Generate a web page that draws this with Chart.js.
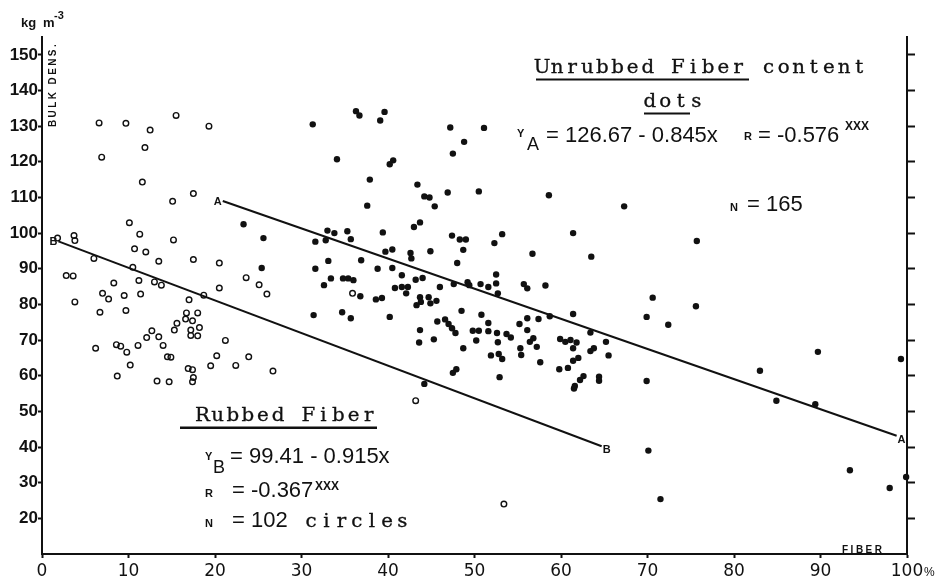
<!DOCTYPE html>
<html>
<head>
<meta charset="utf-8">
<title>Bulk density vs fiber content</title>
<script src="https://cdn.jsdelivr.net/npm/chart.js@4.4.1/dist/chart.umd.min.js"></script>
<style>
  html, body { margin: 0; padding: 0; background: #fff; }
  canvas { display: block; }
</style>
</head>
<body>
<canvas id="chart" width="937" height="581"></canvas>
<script>
// rubbed fiber samples (open circles): fiber % / bulk density kg m-3
const rubbedX = [
  6.6, 9.7, 12.5, 15.5, 19.3, 6.9, 11.9, 11.6, 15.1, 17.5,
  1.8, 3.7, 3.8, 10.1, 11.3, 15.2, 6.0, 10.7, 12.0, 13.5,
  17.5, 20.5, 10.5, 2.8, 3.6, 11.2, 13.0, 13.8, 8.3, 23.6,
  25.1, 20.5, 26.0, 7.0, 7.7, 9.5, 11.4, 3.8, 18.7, 17.0,
  9.7, 6.7, 16.7, 18.0, 16.6, 17.4, 15.6, 15.3, 18.2, 17.2,
  12.7, 12.1, 13.5, 17.2, 18.0, 21.2, 6.2, 8.6, 9.1, 9.8,
  11.1, 14.0, 14.5, 14.9, 20.2, 23.9, 10.2, 19.5, 22.4, 16.9,
  17.4, 26.7, 8.7, 17.5, 13.3, 14.7, 17.4, 53.4, 35.9, 43.2
];
const rubbedY = [
  130.9, 130.8, 128.9, 133.0, 130.0, 121.3, 124.0, 114.3, 108.9, 111.1,
  98.6, 99.3, 97.9, 102.9, 99.7, 98.1, 92.9, 95.6, 94.7, 92.1,
  92.6, 91.6, 90.4, 88.1, 88.0, 86.7, 86.3, 85.4, 86.0, 87.5,
  85.5, 84.6, 82.9, 83.1, 81.5, 82.5, 82.9, 80.7, 82.6, 81.3,
  78.3, 77.8, 77.6, 77.6, 75.9, 75.4, 74.7, 72.8, 73.5, 72.8,
  72.6, 70.7, 70.9, 71.3, 71.2, 69.9, 67.7, 68.7, 68.3, 66.6,
  68.5, 68.5, 65.3, 65.2, 65.6, 65.3, 63.0, 62.8, 62.9, 62.0,
  61.7, 61.3, 59.9, 59.5, 58.5, 58.3, 58.3, 24.0, 83.1, 53.0
];

// unrubbed fiber samples (dots)
const unrubbedX = [
  31.3, 36.3, 36.7, 39.6, 39.1, 47.2, 51.1, 48.8, 47.5, 34.1,
  40.6, 40.2, 37.9, 43.4, 44.2, 44.8, 45.4, 46.9, 50.5, 58.6,
  37.6, 43.0, 43.7, 33.0, 33.8, 35.3, 35.7, 31.6, 32.8, 39.4,
  47.4, 48.3, 49.0, 53.2, 52.3, 61.4, 48.7, 56.7, 63.5, 39.7,
  40.5, 42.6, 42.7, 44.9, 36.9, 33.1, 48.0, 31.6, 38.8, 40.5,
  33.4, 34.8, 35.4, 36.0, 32.6, 41.6, 43.2, 44.0, 40.8, 41.6,
  42.3, 42.1, 46.0, 47.6, 49.2, 49.4, 50.7, 51.6, 52.5, 52.5,
  52.7, 55.7, 56.1, 58.2, 36.8, 38.6, 39.3, 43.7, 44.7, 43.8,
  43.3, 44.9, 45.6, 31.4, 34.7, 35.7, 40.2, 48.5, 50.8, 45.7,
  46.6, 47.0, 47.4, 47.8, 43.7, 43.6, 45.3, 48.7, 49.8, 50.5,
  50.2, 51.6, 51.6, 52.6, 52.7, 51.9, 52.8, 53.2, 52.9, 53.7,
  54.2, 55.2, 56.1, 56.1, 57.4, 58.7, 61.4, 56.4, 56.8, 57.2,
  55.3, 55.4, 57.6, 47.5, 47.9, 44.2, 63.4, 65.2, 65.5, 59.9,
  60.5, 61.1, 61.8, 61.4, 62.0, 61.4, 59.8, 60.8, 63.8, 63.4,
  62.6, 62.2, 61.6, 61.5, 64.4, 64.4, 69.9, 69.9, 70.6, 70.1,
  72.4, 75.6, 71.5, 83.0, 84.9, 89.7, 89.4, 99.3, 93.4, 98.0,
  99.9, 67.3, 75.7, 23.3, 25.6, 25.4
];
const unrubbedY = [
  130.5, 134.2, 133.0, 134.0, 131.6, 129.6, 129.5, 125.6, 122.3, 120.7,
  120.4, 119.3, 115.0, 113.6, 110.3, 110.0, 107.5, 111.4, 111.7, 110.6,
  107.7, 101.7, 103.0, 100.7, 100.0, 100.5, 98.3, 97.6, 98.0, 100.2,
  99.3, 98.2, 98.2, 99.7, 97.2, 100.0, 95.3, 94.2, 93.4, 94.8,
  95.4, 94.4, 92.9, 94.9, 92.4, 92.2, 91.6, 90.0, 90.0, 90.2,
  87.3, 87.3, 87.3, 86.8, 85.4, 88.2, 86.9, 87.4, 84.6, 84.9,
  84.9, 83.1, 84.9, 85.7, 86.2, 85.4, 85.7, 84.9, 88.4, 85.9,
  83.1, 85.7, 84.5, 85.3, 82.3, 81.4, 81.8, 82.0, 82.0, 80.7,
  79.8, 80.3, 81.0, 77.0, 77.8, 76.1, 76.5, 78.2, 77.1, 75.2,
  75.8, 74.5, 73.3, 72.0, 72.8, 69.3, 70.2, 67.7, 72.6, 72.6,
  69.9, 74.8, 72.5, 72.0, 69.4, 65.7, 66.1, 64.7, 59.6, 71.7,
  70.7, 74.5, 76.1, 72.8, 75.9, 76.7, 77.3, 69.5, 70.5, 68.1,
  67.7, 65.8, 63.8, 60.8, 61.8, 57.7, 72.1, 69.5, 65.7, 70.3,
  69.5, 70.0, 69.3, 67.7, 65.0, 64.2, 61.8, 62.2, 67.7, 66.9,
  59.9, 58.8, 57.1, 56.4, 59.7, 58.6, 58.5, 76.5, 81.9, 39.0,
  74.3, 79.5, 25.4, 61.4, 53.0, 66.7, 52.0, 64.7, 33.5, 28.5,
  31.6, 107.5, 97.8, 102.5, 98.6, 90.2
];

// regression fits: [intercept, slope] and the fiber range each line covers
const fitA = [126.67, -0.845];
const spanA = [20.9, 98.8];
const fitB = [99.41, -0.915];
const spanB = [1.9, 64.7];

const xTicks = [0, 10, 20, 30, 40, 50, 60, 70, 80, 90, 100];
const yTicks = [20, 30, 40, 50, 60, 70, 80, 90, 100, 110, 120, 130, 140, 150];

const ink = '#111';

const toPoints = (xs, ys) => xs.map((x, i) => ({ x, y: ys[i] }));
const fitLine = (fit, span) => span.map(x => ({ x, y: fit[0] + fit[1] * x }));

// typewriter text: one glyph per fixed-width cell, slightly stretched
function typed(ctx, str, left, base, pitch) {
  ctx.font = '18px "DejaVu Serif"';
  ctx.textAlign = 'center';
  ctx.lineWidth = 0.3;
  [...str].forEach((c, i) => {
    ctx.save();
    ctx.translate(left + pitch * (i + 0.5), base);
    ctx.scale(1.1, 1);
    ctx.fillText(c, 0, 0);
    ctx.strokeText(c, 0, 0);
    ctx.restore();
  });
  ctx.textAlign = 'left';
}

function put(ctx, str, px, base, font) {
  ctx.font = font;
  ctx.fillText(str, px, base);
}

function spaced(ctx, str, px, base, gap) {
  for (const c of str) {
    ctx.fillText(c, px, base);
    px += ctx.measureText(c).width + gap;
  }
}

const eqFont = '22px "Liberation Sans"';
const capFont = 'bold 11px "Liberation Sans"';
const subFont = '18px "Liberation Sans"';
const supFont = 'bold 12px "Liberation Sans"';

const notes = {
  id: 'notes',
  afterDraw(chart) {
    const { ctx, scales: { x, y } } = chart;
    ctx.save();
    ctx.fillStyle = ink;
    ctx.strokeStyle = ink;
    ctx.textBaseline = 'alphabetic';

    // axis captions
    put(ctx, 'kg', 21, 27, 'bold 13px "Liberation Sans"');
    put(ctx, 'm', 43, 27, 'bold 13px "Liberation Sans"');
    put(ctx, '-3', 54, 19, 'bold 11px "Liberation Sans"');
    put(ctx, '%', 924, 576, '12px "Liberation Sans"');
    ctx.font = 'bold 10px "Liberation Sans"';
    spaced(ctx, 'FIBER', 842, 553, 2.5);
    ctx.save();
    ctx.translate(55.5, 127);
    ctx.rotate(-Math.PI / 2);
    spaced(ctx, 'BULK DENS.', 0, 0, 2.4);
    ctx.restore();

    // unrubbed block
    typed(ctx, 'Unrubbed Fiber content', 534.5, 73, 15.1);
    ctx.fillRect(536, 78.5, 213, 2);
    typed(ctx, 'dots', 642, 107, 15.5);
    ctx.fillRect(644, 112.5, 46, 2);
    put(ctx, 'Y', 517, 137, capFont);
    put(ctx, 'A', 527, 150, subFont);
    put(ctx, '= 126.67 - 0.845x', 546, 142, eqFont);
    put(ctx, 'R', 744, 140, capFont);
    put(ctx, '= -0.576', 758, 142, eqFont);
    put(ctx, 'XXX', 845, 130, supFont);
    put(ctx, 'N', 730, 211, capFont);
    put(ctx, '= 165', 747, 211, eqFont);

    // rubbed block
    typed(ctx, 'Rubbed Fiber', 195, 421, 15.1);
    ctx.fillRect(180, 426.5, 197, 2.5);
    put(ctx, 'Y', 205, 460, capFont);
    put(ctx, 'B', 213, 473, subFont);
    put(ctx, '= 99.41 - 0.915x', 230, 463, eqFont);
    put(ctx, 'R', 205, 497, capFont);
    put(ctx, '= -0.367', 232, 497, eqFont);
    put(ctx, 'XXX', 315, 490, supFont);
    put(ctx, 'N', 205, 527, capFont);
    put(ctx, '= 102', 232, 527, eqFont);
    typed(ctx, 'circles', 303.5, 527, 15.2);

    // end letters on the regression lines
    ctx.font = 'bold 11px "Liberation Sans"';
    ctx.textBaseline = 'middle';
    const ends = [[fitA, spanA, 'A'], [fitB, spanB, 'B']];
    ends.forEach(([fit, span, tag]) => {
      const [p0, p1] = fitLine(fit, span);
      ctx.textAlign = 'right';
      ctx.fillText(tag, x.getPixelForValue(p0.x) - 1, y.getPixelForValue(p0.y) + 1);
      ctx.textAlign = 'left';
      ctx.fillText(tag, x.getPixelForValue(p1.x) + 1, y.getPixelForValue(p1.y) + 4);
    });
    ctx.restore();
  }
};

const axisLine = { color: ink, width: 2 };
const setTicks = list => scale => { scale.ticks = list.map(v => ({ value: v })); };

new Chart(document.getElementById('chart'), {
  type: 'scatter',
  data: {
    datasets: [
      { type: 'line', data: fitLine(fitA, spanA), borderColor: ink, borderWidth: 2, pointRadius: 0, clip: false },
      { type: 'line', data: fitLine(fitB, spanB), borderColor: ink, borderWidth: 2, pointRadius: 0, clip: false },
      {
        label: 'Rubbed Fiber', data: toPoints(rubbedX, rubbedY),
        pointRadius: 2.8, borderWidth: 1.4, borderColor: ink, backgroundColor: 'rgba(0,0,0,0)', clip: false
      },
      {
        label: 'Unrubbed Fiber', data: toPoints(unrubbedX, unrubbedY),
        pointRadius: 3.2, borderWidth: 0, backgroundColor: ink, clip: false
      }
    ]
  },
  options: {
    responsive: false,
    animation: false,
    devicePixelRatio: 1,
    events: [],
    layout: { padding: { top: 37, left: 0, right: 0, bottom: 0 }, autoPadding: false },
    plugins: { legend: { display: false }, tooltip: { enabled: false } },
    scales: {
      x: {
        type: 'linear', min: 0, max: 100,
        afterBuildTicks: setTicks(xTicks),
        afterFit: s => { s.height = 27; },
        border: axisLine,
        grid: { drawOnChartArea: false, tickLength: 4, tickColor: ink, tickWidth: 2 },
        ticks: { color: ink, padding: 3, maxRotation: 0, autoSkip: false, font: { family: 'DejaVu Sans', size: 17 } }
      },
      y: {
        type: 'linear', position: 'left', min: 10, max: 155,
        afterBuildTicks: setTicks(yTicks),
        afterFit: s => { s.width = 42; },
        border: axisLine,
        grid: { drawOnChartArea: false, tickLength: 4, tickColor: ink, tickWidth: 2 },
        ticks: { color: ink, padding: 0, autoSkip: false, font: { family: 'Liberation Sans', size: 17, weight: 'bold' } }
      },
      y2: {
        type: 'linear', position: 'right', min: 10, max: 155,
        afterBuildTicks: setTicks(yTicks),
        afterFit: s => { s.width = 30; },
        border: axisLine,
        grid: { drawOnChartArea: false, tickLength: 8, tickColor: ink, tickWidth: 2 },
        ticks: { display: false }
      }
    }
  },
  plugins: [notes]
});
</script>
</body>
</html>
